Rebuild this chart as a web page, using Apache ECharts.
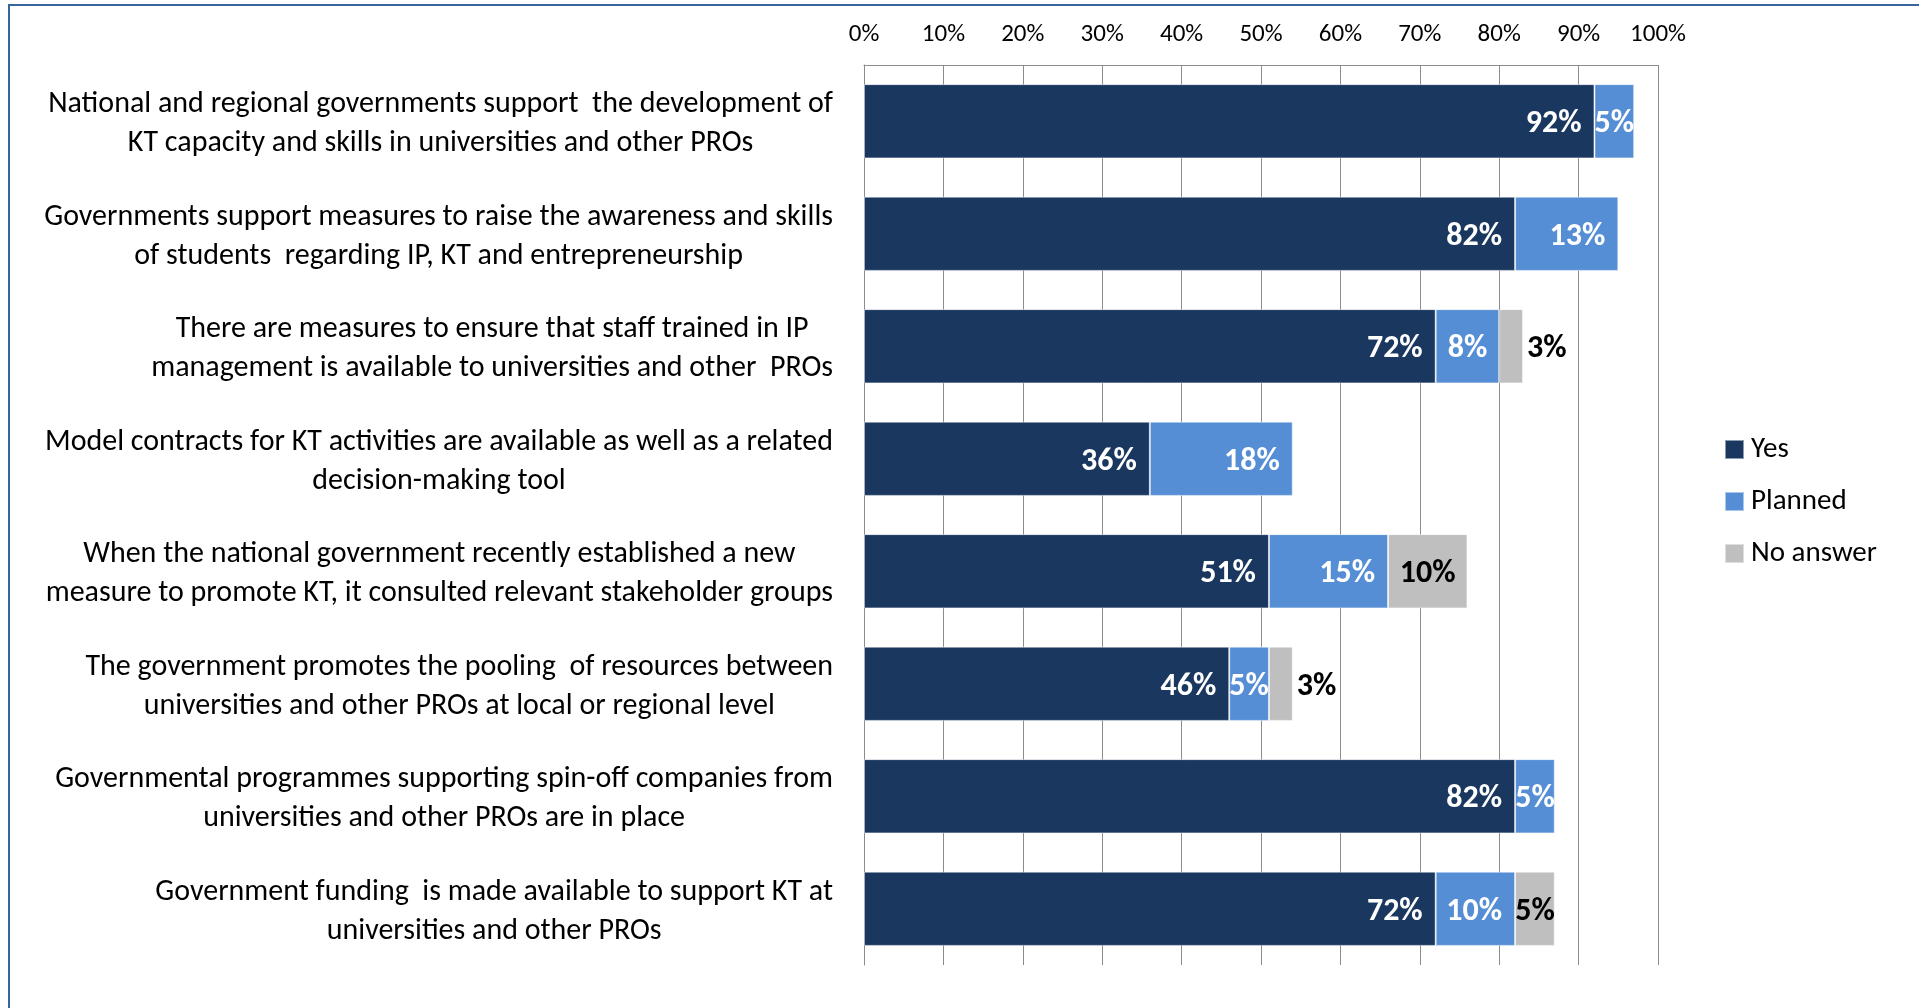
<!DOCTYPE html>
<html>
<head>
<meta charset="utf-8">
<script src="https://cdn.jsdelivr.net/npm/echarts@6/dist/echarts.min.js"></script>
<style>
  html, body { margin: 0; padding: 0; background: #ffffff; }
  #chart { width: 1919px; height: 1008px; }
</style>
</head>
<body>
<div id="chart"></div>
<script>
// Survey statements, top to bottom
const categories = [
  'National and regional governments support  the development of\nKT capacity and skills in universities and other PROs',
  'Governments support measures to raise the awareness and skills\nof students  regarding IP, KT and entrepreneurship',
  'There are measures to ensure that staff trained in IP\nmanagement is available to universities and other  PROs',
  'Model contracts for KT activities are available as well as a related\ndecision-making tool',
  'When the national government recently established a new\nmeasure to promote KT, it consulted relevant stakeholder groups',
  'The government promotes the pooling  of resources between\nuniversities and other PROs at local or regional level',
  'Governmental programmes supporting spin-off companies from\nuniversities and other PROs are in place',
  'Government funding  is made available to support KT at\nuniversities and other PROs'
];

// Share of answers, in percent
const yesValues      = [92, 82, 72, 36, 51, 46, 82, 72];
const plannedValues  = [5, 13, 8, 18, 15, 5, 5, 10];
const noAnswerValues = [null, null, 3, null, 10, 3, null, 5];

const seriesNames = ['Yes', 'Planned', 'No answer'];
const axisMin = 0, axisMax = 100, axisStep = 10;

const FONT = 'Carlito, Lato, sans-serif';
const COLORS = ['#1A3760', '#558ED5', '#BFBFBF'];

const pct = p => (p.value == null ? '' : p.value + '%');

const labelBase = {
  show: true,
  fontFamily: FONT,
  fontWeight: 'bold',
  fontSize: 32,
  offset: [0, 3],
  formatter: pct
};

const yesData = yesValues.map(v => ({
  value: v,
  label: { position: 'insideRight', distance: 13, color: '#ffffff' }
}));

const plannedData = plannedValues.map(v => ({
  value: v,
  label: v < 10
    ? { position: 'inside', color: '#ffffff' }
    : { position: 'insideRight', distance: 13, color: '#ffffff' }
}));

const noAnswerData = noAnswerValues.map(v => ({
  value: v,
  label: (v != null && v <= 3)
    ? { position: 'right', distance: 4, color: '#000000' }
    : { position: 'inside', color: '#000000' }
}));

const itemStyle = c => ({ color: c, borderColor: 'rgba(255,255,255,0.5)', borderWidth: 1 });

const chart = echarts.init(document.getElementById('chart'), null, { renderer: 'canvas' });

chart.setOption({
  backgroundColor: '#ffffff',
  animation: false,
  textStyle: { fontFamily: FONT },
  graphic: [{
    type: 'rect',
    z: 100,
    shape: { x: 9, y: 5, width: 2000, height: 1100 },
    style: { fill: 'none', stroke: '#3566A0', lineWidth: 2 }
  }],
  legend: {
    orient: 'vertical',
    left: 1724,
    top: 435,
    padding: 0,
    icon: 'rect',
    itemWidth: 19,
    itemHeight: 19,
    itemGap: 23,
    data: seriesNames,
    textStyle: { fontFamily: FONT, fontSize: 29, color: '#000000', padding: [0, 0, 0, 2] }
  },
  grid: { left: 864, right: 261, top: 65, bottom: 43, containLabel: false },
  xAxis: {
    type: 'value',
    position: 'top',
    min: axisMin,
    max: axisMax,
    interval: axisStep,
    axisLine: { show: true, lineStyle: { color: '#8C8C8C', width: 1 } },
    axisTick: { show: false },
    splitLine: { show: true, lineStyle: { color: '#8C8C8C', width: 1 } },
    axisLabel: {
      formatter: '{value}%',
      fontFamily: FONT,
      fontSize: 25,
      color: '#000000',
      margin: 18
    }
  },
  yAxis: {
    type: 'category',
    inverse: true,
    data: categories,
    axisLine: { show: true, lineStyle: { color: '#8C8C8C', width: 1 } },
    axisTick: { show: false },
    splitLine: { show: false },
    axisLabel: {
      align: 'right',
      margin: 31,
      interval: 0,
      padding: [6, 0, 0, 0],
      formatter: v => v.split('\n').map(s => '{c|' + s + '}').join('\n'),
      rich: {
        c: { align: 'center', fontFamily: FONT, fontSize: 30, lineHeight: 39, color: '#000000' }
      }
    }
  },
  series: [
    { name: seriesNames[0], type: 'bar', stack: 'all', barCategoryGap: '34%',
      itemStyle: itemStyle(COLORS[0]), label: labelBase, data: yesData },
    { name: seriesNames[1], type: 'bar', stack: 'all', barCategoryGap: '34%',
      itemStyle: itemStyle(COLORS[1]), label: labelBase, data: plannedData },
    { name: seriesNames[2], type: 'bar', stack: 'all', barCategoryGap: '34%',
      itemStyle: itemStyle(COLORS[2]), label: labelBase, data: noAnswerData }
  ]
});
</script>
</body>
</html>
